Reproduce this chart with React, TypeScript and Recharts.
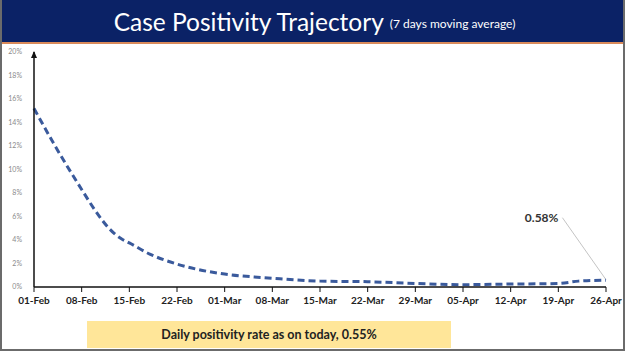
import { LineChart, Line, XAxis, YAxis, ReferenceLine, ReferenceDot } from "recharts";

const NAVY = "#0b2266";
const LINE_BLUE = "#3a5a9c";
const FONT = "Lato, 'Open Sans', sans-serif";

// day index from 01-Feb
const days = [0, 3, 7, 9, 11, 12, 13, 14, 17, 21, 24, 28, 35, 42, 49, 56, 63, 70, 77, 80, 84];
const positivity = [15.2, 12.1, 8.3, 6.5, 5.0, 4.45, 4.05, 3.75, 2.8, 1.95, 1.5, 1.1, 0.75, 0.5, 0.45, 0.3, 0.2, 0.25, 0.3, 0.5, 0.58];

const xTicks = [0, 7, 14, 21, 28, 35, 42, 49, 56, 63, 70, 77, 84];
const xLabels = ["01-Feb", "08-Feb", "15-Feb", "22-Feb", "01-Mar", "08-Mar", "15-Mar", "22-Mar", "29-Mar", "05-Apr", "12-Apr", "19-Apr", "26-Apr"];
const yTicks = [0, 2, 4, 6, 8, 10, 12, 14, 16, 18, 20];

const data = days.map((d, i) => ({ day: d, rate: positivity[i] }));

function Arrow(props: any) {
  const { cx, cy } = props;
  return <path d={`M${cx - 3},${cy + 6} L${cx},${cy - 1} L${cx + 3},${cy + 6} Z`} fill="#111" />;
}

export default function App() {
  return (
    <div
      style={{
        position: "absolute",
        left: 0,
        top: 0,
        width: 625,
        height: 351,
        background: "#fff",
        boxSizing: "border-box",
        border: "2px solid #6b6b6b",
        borderTop: "none",
        overflow: "hidden",
        fontFamily: FONT,
      }}
    >
      <div
        style={{
          position: "absolute",
          left: -2,
          top: 0,
          width: 625,
          height: 42,
          background: NAVY,
          borderBottom: "2px solid #d98a5a",
          color: "#fff",
          display: "flex",
          alignItems: "center",
          justifyContent: "center",
        }}
      >
        <span style={{ fontSize: 24.5, marginLeft: 4 }}>Case Positivity Trajectory</span>
        <span style={{ fontSize: 12, marginLeft: 6, marginTop: 4 }}>(7 days moving average)</span>
      </div>
      <div style={{ position: "absolute", left: -2, top: 0 }}>
        <LineChart
          width={625}
          height={349}
          data={data}
          margin={{ top: 52, right: 19, bottom: 42, left: 4 }}
        >
          <XAxis
            dataKey="day"
            type="number"
            domain={[0, 84]}
            ticks={xTicks}
            tickFormatter={(v: number) => xLabels[xTicks.indexOf(v)] ?? ""}
            interval={0}
            height={20}
            tickSize={5}
            tickMargin={5}
            axisLine={{ stroke: "#111", strokeWidth: 1.5 }}
            tickLine={{ stroke: "#111" }}
            tick={{ fontSize: 10, fill: "#222", fontFamily: FONT, fontWeight: 700 }}
          />
          <YAxis
            type="number"
            domain={[0, 20]}
            ticks={yTicks}
            interval={0}
            width={30}
            tickFormatter={(v: number) => `${v}%`}
            axisLine={{ stroke: "#111", strokeWidth: 1.5 }}
            tickLine={false}
            tickMargin={6}
            tick={{ fontSize: 7, fill: "#8a8a8a", fontFamily: FONT }}
          />
          <ReferenceDot x={0} y={20} r={3} shape={Arrow} ifOverflow="visible" />
          <ReferenceLine
            segment={[{ x: 77.6, y: 5.9 }, { x: 84, y: 0.62 }]}
            stroke="#c4c4c4"
            strokeWidth={1}
            ifOverflow="visible"
          />
          <ReferenceDot
            x={77.6}
            y={5.9}
            r={0}
            fill="none"
            stroke="none"
            ifOverflow="visible"
            label={{ value: "0.58%", position: "left", offset: 4, fontSize: 12, fill: "#333", fontFamily: FONT, fontWeight: 700 }}
          />
          <Line
            type="monotone"
            dataKey="rate"
            stroke={LINE_BLUE}
            strokeWidth={3}
            strokeDasharray="7 4"
            dot={false}
            isAnimationActive={false}
          />
        </LineChart>
      </div>
      <div
        style={{
          position: "absolute",
          left: 85,
          top: 321,
          width: 364,
          height: 27,
          background: "#ffe699",
          display: "flex",
          alignItems: "center",
          justifyContent: "center",
          fontSize: 12.5,
          fontWeight: 700,
          color: "#222",
        }}
      >
        Daily positivity rate as on today, 0.55%
      </div>
    </div>
  );
}
